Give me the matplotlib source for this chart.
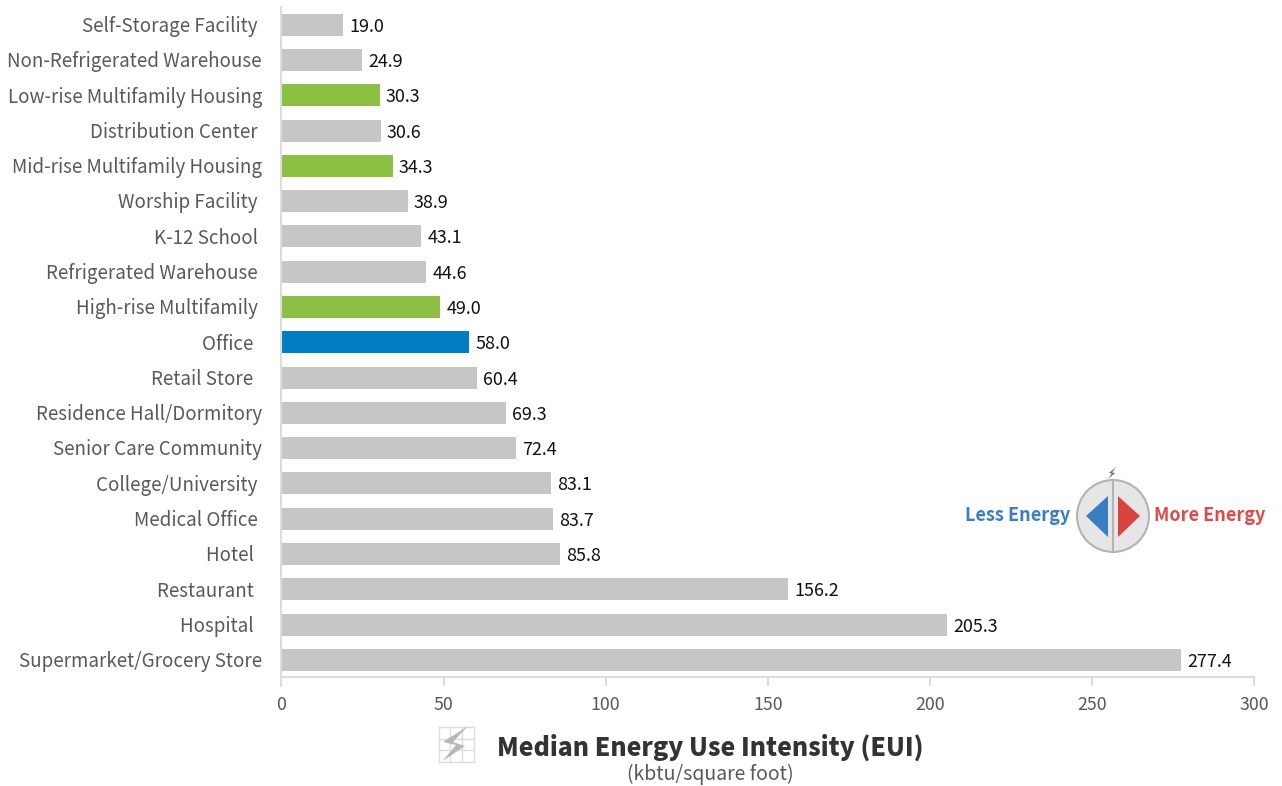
import matplotlib
matplotlib.use("Agg")
import matplotlib.pyplot as plt
from matplotlib.patches import Circle, Polygon
from matplotlib.transforms import Affine2D

plt.rcParams['font.family'] = ['Noto Sans CJK JP', 'DejaVu Sans']

# trailing spaces in some names are kept, they nudge the label off the axis
labels = ["Self-Storage Facility ", "Non-Refrigerated Warehouse", "Low-rise Multifamily Housing",
          "Distribution Center ", "Mid-rise Multifamily Housing", "Worship Facility ",
          "K-12 School ", "Refrigerated Warehouse ", "High-rise Multifamily ",
          "Office  ", "Retail Store  ", "Residence Hall/Dormitory",
          "Senior Care Community", "College/University ", "Medical Office ",
          "Hotel  ", "Restaurant  ", "Hospital  ", "Supermarket/Grocery Store"]
values = [19.0, 24.9, 30.3, 30.6, 34.3, 38.9, 43.1, 44.6, 49.0, 58.0,
          60.4, 69.3, 72.4, 83.1, 83.7, 85.8, 156.2, 205.3, 277.4]
multifamily = ["Low-rise Multifamily Housing", "Mid-rise Multifamily Housing", "High-rise Multifamily "]
office = "Office  "
xticks = [0, 50, 100, 150, 200, 250, 300]

GREY = "#c6c6c6"
GREEN = "#8cc043"
BLUE = "#007dc5"
AXIS = "#dcdcdc"

W, H = 1282, 786
fig = plt.figure(figsize=(W / 100, H / 100), dpi=100)
ax = fig.add_axes([281.4 / W, 1 - 677.2 / H, (1254 - 281.4) / W, (677.2 - 6.7) / H])

colors = []
for name in labels:
    if name == office:
        colors.append(BLUE)
    elif name in multifamily:
        colors.append(GREEN)
    else:
        colors.append(GREY)

ypos = list(range(len(labels)))
ax.barh(ypos, values, height=0.625, color=colors, linewidth=0)
ax.set_xlim(0, 300)
ax.set_ylim(18.49, -0.51)

for y, v in zip(ypos, values):
    ax.annotate(f"{v:.1f}", (v, y), xytext=(6.2, 0), textcoords="offset pixels",
                va="center_baseline", ha="left", fontsize=12.9, color="#111111")

ax.set_yticks(ypos)
ax.set_yticklabels(labels, fontsize=13.5, color="#595959")
ax.tick_params(axis="y", length=0, pad=14)
for tl in ax.get_yticklabels():
    tl.set_transform(tl.get_transform() + Affine2D().translate(0, 0.7))
ax.set_xticks(xticks)
ax.tick_params(axis="x", length=6.5, width=1.5, color=AXIS, labelsize=12.8, labelcolor="#595959", pad=7)

for s in ["top", "right"]:
    ax.spines[s].set_visible(False)
for s in ["left", "bottom"]:
    ax.spines[s].set_color(AXIS)
    ax.spines[s].set_linewidth(1.5)
ax.spines["left"].set_bounds(18.75, -0.51)

# overlay in pixel coordinates for the title block and the energy dial
ov = fig.add_axes([0, 0, 1, 1])
ov.set_xlim(0, W)
ov.set_ylim(H, 0)
ov.axis("off")
ov.patch.set_alpha(0)

ov.text(710, 747, "Median Energy Use Intensity (EUI)", fontsize=17.9, fontweight=900,
        color="#333333", ha="center", va="center")
ov.text(710.5, 774, "(kbtu/square foot)", fontsize=14, color="#595959", ha="center", va="center")

# grid tile with lightning bolt
for gx in [438.5, 450, 462, 473.5]:
    ov.plot([gx, gx], [727, 761.5], color="#dddddd", lw=1)
for gy in [727, 738.5, 750, 761.5]:
    ov.plot([438.5, 473.5], [gy, gy], color="#dddddd", lw=1)
ov.add_patch(Polygon([(468, 726), (443, 742), (456, 745), (442, 761.5), (465, 746), (453, 742)],
                     closed=True, fc="#b5b7b9", ec="none", zorder=3))

# dial
ov.add_patch(Circle((1113, 516), 36, fc="#e6e6e6", ec="#b4b4b4", lw=1.5))
ov.plot([1113, 1113], [481, 552], color="#b4b4b4", lw=1.5)
ov.add_patch(Polygon([(1086, 516), (1108, 496), (1108, 537)], closed=True, fc="#3a7dc2", ec="none"))
ov.add_patch(Polygon([(1140, 516), (1118, 496), (1118, 537)], closed=True, fc="#d8433f", ec="none"))
ov.add_patch(Polygon([(1116, 467), (1109, 473), (1112, 473.5), (1108, 479), (1115, 473), (1112, 472.5)],
                     closed=True, fc="#666666", ec="none"))
ov.text(1070, 515.5, "Less Energy", fontsize=13, fontweight="bold", color="#3a7dc2", ha="right", va="center")
ov.text(1154, 515.5, "More Energy", fontsize=13, fontweight="bold", color="#dc4c49", ha="left", va="center")

fig.savefig("out.png", dpi=100)
